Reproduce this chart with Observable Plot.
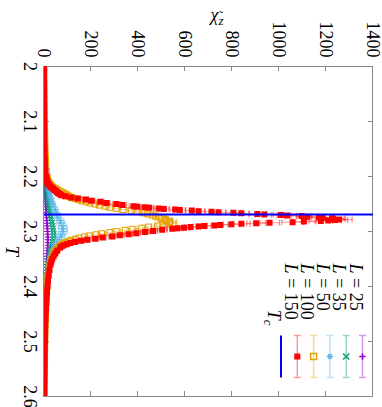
<!DOCTYPE html>
<html><head><meta charset="utf-8">
<script src="https://cdn.jsdelivr.net/npm/d3@7"></script>
<script src="https://cdn.jsdelivr.net/npm/@observablehq/plot@0.6"></script>
<style>
html,body{margin:0;padding:0;background:#fff;overflow:hidden;}
#wrap{position:relative;width:382px;height:407px;overflow:hidden;background:#fff;}
#chart{position:absolute;left:382px;top:0;width:407px;height:382px;transform-origin:0 0;transform:rotate(90deg);}
#chart svg{display:block;font-family:"Liberation Serif",serif !important;}
#chart svg text, #chart svg g{font-family:"Liberation Serif",serif !important;}
</style></head><body><div id="wrap"><div id="chart"></div></div>
<script>
// ---- data: [T, chi, err] ----
const L150 = [[2.00,2.0,0.6],[2.01,2.1,0.6],[2.02,2.0,0.6],[2.03,2.3,0.6],[2.04,2.4,0.7],[2.05,2.5,0.7],[2.06,2.4,0.7],[2.07,2.8,0.7],[2.08,3.0,0.8],[2.09,2.9,0.8],[2.10,3.4,0.8],[2.11,3.6,0.9],[2.12,3.9,0.9],[2.13,4.1,1.0],[2.14,4.6,1.0],[2.15,5.0,1.1],[2.16,5.4,1.2],[2.17,6.1,1.3],[2.18,7.0,1.4],[2.19,8.3,1.6],[2.20,10,1.8],
[2.202,11,2],[2.204,12,2],[2.206,13,2],[2.208,14,2.5],[2.210,16,2.5],[2.212,18,3],[2.214,21,3],[2.216,25,4],[2.218,29,4],[2.220,34,5],[2.222,40,5],[2.224,46,6],[2.226,52,6],[2.228,57,6],[2.230,62,7],[2.232,68,7],[2.234,76,8],[2.236,93,9],[2.238,118,10],[2.240,146,11],[2.242,180,12],[2.244,205,13],[2.246,243,14],[2.248,268,15],[2.250,310,16],[2.252,336,17],[2.254,383,18],
[2.255,398,18],[2.256,432,19],[2.257,450,20],[2.258,490,21],[2.259,512,22],[2.260,560,23],[2.261,580,24],[2.262,631,26],[2.263,660,27],[2.264,715,29],[2.265,745,30],[2.266,808,32],[2.267,842,34],[2.268,910,36],[2.269,940,38],[2.270,1010,40],[2.271,1036,42],[2.272,1098,44],[2.273,1122,46],[2.274,1172,48],[2.275,1188,50],[2.276,1228,52],[2.277,1232,53],[2.278,1258,55],[2.279,1240,54],[2.280,1212,52],[2.281,1180,50],[2.282,1108,48],[2.283,1060,46],[2.284,962,42],[2.285,905,40],[2.286,842,37],[2.287,800,35],[2.288,752,33],[2.289,728,31],[2.290,684,29],[2.291,660,28],[2.292,626,26],[2.293,598,25],[2.294,571,24],[2.295,548,23],
[2.297,505,21],[2.299,466,20],[2.301,432,19],[2.303,395,18],[2.305,362,17],[2.307,325,16],[2.309,292,15],[2.311,252,14],[2.313,220,13],[2.315,186,12],[2.317,160,11],[2.319,134,10],[2.321,114,9],[2.323,99,8],[2.325,86,7],[2.327,78,6],[2.329,71,6],
[2.335,58,5],[2.340,50,4],[2.345,43,4],[2.350,37,3],[2.355,33,3],[2.360,29,2.5],
[2.37,25,2],[2.38,22,2],[2.39,19,1.8],[2.40,17,1.6],[2.41,15,1.5],[2.42,13.5,1.4],[2.43,12,1.3],[2.44,10.5,1.2],[2.45,9.5,1.1],[2.46,8.5,1],[2.47,7.5,1],[2.48,7,0.9],[2.49,6.5,0.9],[2.50,6,0.8],[2.51,5.5,0.8],[2.52,5.2,0.8],[2.53,4.9,0.7],[2.54,4.6,0.7],[2.55,4.4,0.7],[2.56,4.1,0.7],[2.57,3.9,0.6],[2.58,3.6,0.6],[2.59,3.4,0.6],[2.60,3.2,0.6]];

const L100 = [[2.00,2.0,0.5],[2.01,2.2,0.5],[2.02,2.1,0.5],[2.03,2.5,0.6],[2.04,2.6,0.6],[2.05,2.9,0.6],[2.06,3.1,0.7],[2.07,3.0,0.7],[2.08,3.5,0.7],[2.09,3.6,0.8],[2.10,4.0,0.8],[2.11,4.5,0.9],[2.12,5.0,0.9],[2.13,5.4,1],[2.14,6.1,1],[2.15,6.6,1.1],[2.16,7.5,1.2],[2.17,8.6,1.3],[2.18,10,1.5],[2.19,12,1.7],[2.20,14,2],
[2.202,15,2],[2.204,16,2],[2.206,18,2.5],[2.208,19,2.5],[2.210,21,3],[2.212,24,3],[2.214,27,3],[2.216,31,3.5],[2.218,36,4],[2.220,42,4],[2.222,50,5],[2.224,58,5],[2.226,66,6],[2.228,76,6],[2.230,85,7],[2.232,93,7],[2.234,101,8],[2.236,108,8],[2.238,119,9],[2.240,132,10],[2.242,148,10],[2.244,162,11],[2.246,181,12],[2.248,197,13],[2.250,219,14],[2.252,238,15],[2.254,263,16],[2.256,283,17],[2.258,312,18],[2.260,338,19],[2.262,374,20],[2.264,398,21],[2.266,426,22],[2.268,443,23],[2.270,464,24],[2.272,476,25],[2.274,494,26],[2.276,503,27],[2.278,518,28],[2.280,524,28],[2.282,536,29],[2.284,538,29],[2.286,533,29],[2.288,508,28],[2.290,486,27],[2.292,447,25],[2.294,418,24],[2.296,377,22],[2.298,348,21],[2.300,309,19],[2.302,283,18],[2.304,247,16],[2.306,224,15],[2.308,194,13],[2.310,174,12],[2.312,150,11],[2.314,135,10],[2.316,117,9],[2.318,106,8],[2.320,93,7],[2.322,86,7],[2.324,77,6],[2.326,71,6],[2.328,65,5],[2.330,61,5],
[2.335,51,4],[2.340,44,4],[2.345,38,3],[2.350,33,3],[2.355,30,2.5],[2.360,27,2.5],
[2.37,23,2],[2.38,19,1.8],[2.39,17,1.6],[2.40,15,1.5],[2.41,13,1.4],[2.42,11.5,1.3],[2.43,10.5,1.2],[2.44,9.5,1.1],[2.45,8.5,1],[2.46,8,1],[2.47,7,0.9],[2.48,6.5,0.9],[2.49,6,0.8],[2.50,5.5,0.8],[2.51,5.1,0.7],[2.52,4.9,0.7],[2.53,4.5,0.7],[2.54,4.4,0.7],[2.55,4.0,0.6],[2.56,3.9,0.6],[2.57,3.6,0.6],[2.58,3.4,0.6],[2.59,3.1,0.5],[2.60,3.0,0.5]];

const L50 = [[2.00,1.5,0.4],[2.01,1.6,0.4],[2.02,1.5,0.4],[2.03,1.8,0.5],[2.04,1.8,0.5],[2.05,2.1,0.5],[2.06,2.0,0.5],[2.07,2.4,0.6],[2.08,2.5,0.6],[2.09,2.8,0.7],[2.10,3.0,0.8],[2.11,3.3,0.9],[2.12,3.5,1],[2.13,4.1,1.1],[2.14,4.4,1.2],
[2.150,5.1,1.5],[2.155,5.4,1.6],[2.160,6.3,1.8],[2.165,6.6,2],[2.170,7.6,2.2],[2.175,8.0,2.4],[2.180,9.4,2.7],[2.185,9.8,3],[2.190,11.8,3.3],[2.195,12.2,3.6],[2.200,14.5,4],[2.205,15.1,4.3],[2.210,17.6,4.7],[2.215,18.4,5],[2.220,21.8,5.5],[2.225,22.6,6],[2.230,27,6.5],[2.235,27.5,7],[2.240,33,8],[2.245,34,8.5],[2.250,40,9],[2.255,42,10],[2.260,49,11],[2.265,52,12],[2.270,59,13],[2.275,62,14],[2.280,71,15],[2.285,74,16],[2.290,81,17],[2.295,82,18],[2.300,83,18],[2.305,77,17],[2.310,73,16],[2.315,63,15],[2.320,58,14],[2.325,49,12],[2.330,45,11],[2.335,38,10],[2.340,36,9],[2.345,30,8],[2.350,29,7],[2.355,24.5,6.5],[2.360,23.5,6],[2.365,20.5,5.5],[2.370,20,5],[2.375,17.5,4.5],[2.380,17,4.2],[2.385,15.2,4],[2.390,14.8,3.8],[2.395,13.2,3.5],[2.400,12.8,3.3],
[2.41,11.2,2.8],[2.42,10.1,2.5],[2.43,9.1,2.2],[2.44,8.3,2],[2.45,7.6,1.8],[2.46,7.0,1.6],[2.47,6.5,1.5],[2.48,6.0,1.4],[2.49,5.6,1.3],[2.50,5.2,1.2],[2.51,4.9,1.1],[2.52,4.5,1],[2.53,4.3,1],[2.54,4.0,0.9],[2.55,3.8,0.9],[2.56,3.6,0.8],[2.57,3.4,0.8],[2.58,3.2,0.7],[2.59,3.0,0.7],[2.60,2.9,0.7]];

const L35 = [[2.00,1.0,0.2],[2.01,1.1,0.2],[2.02,1.1,0.2],[2.03,1.2,0.2],[2.04,1.3,0.3],[2.05,1.4,0.3],[2.06,1.5,0.3],[2.07,1.6,0.3],[2.08,1.8,0.4],[2.09,1.9,0.4],[2.10,2.1,0.4],[2.11,2.3,0.5],[2.12,2.6,0.5],[2.13,2.8,0.6],[2.14,3.1,0.6],
[2.150,3.4,0.7],[2.155,3.8,0.7],[2.160,4.0,0.8],[2.165,4.5,0.8],[2.170,4.8,0.9],[2.175,5.4,1],[2.180,5.8,1],[2.185,6.4,1.1],[2.190,7.0,1.2],[2.195,7.7,1.3],[2.200,8.3,1.4],[2.205,9.1,1.5],[2.210,9.8,1.6],[2.215,10.8,1.8],[2.220,11.7,1.9],[2.225,12.9,2.1],[2.230,14,2.2],[2.235,15.5,2.4],[2.240,16.8,2.6],[2.245,18.6,2.8],[2.250,20,3],[2.255,22.3,3.3],[2.260,24,3.5],[2.265,26.4,3.8],[2.270,28.5,4],[2.275,31.3,4.3],[2.280,33.5,4.5],[2.285,36.4,4.8],[2.290,38.5,5],[2.295,40.8,5.2],[2.300,42,5.3],[2.305,42.8,5.4],[2.310,42,5.3],[2.315,40.8,5.1],[2.320,38,4.8],[2.325,35.3,4.5],[2.330,32,4.1],[2.335,29.3,3.8],[2.340,26.5,3.4],[2.345,24.2,3.1],[2.350,22,2.9],[2.355,20.2,2.7],[2.360,18.5,2.5],[2.365,17.2,2.3],[2.370,15.8,2.1],[2.375,14.8,2],[2.380,13.7,1.9],[2.385,12.9,1.8],[2.390,12,1.7],[2.395,11.4,1.6],[2.400,10.6,1.5],
[2.41,9.5,1.3],[2.42,8.6,1.2],[2.43,7.8,1.1],[2.44,7.1,1],[2.45,6.5,0.9],[2.46,6.0,0.8],[2.47,5.5,0.8],[2.48,5.1,0.7],[2.49,4.7,0.7],[2.50,4.4,0.6],[2.51,4.1,0.6],[2.52,3.8,0.5],[2.53,3.6,0.5],[2.54,3.4,0.5],[2.55,3.2,0.5],[2.56,3.0,0.4],[2.57,2.8,0.4],[2.58,2.7,0.4],[2.59,2.5,0.4],[2.60,2.4,0.4]];

const L25 = [[2.00,0.6,0.1],[2.01,0.65,0.1],[2.02,0.7,0.1],[2.03,0.75,0.1],[2.04,0.8,0.1],[2.05,0.85,0.1],[2.06,0.9,0.1],[2.07,1.0,0.1],[2.08,1.05,0.1],[2.09,1.1,0.1],[2.10,1.2,0.1],[2.11,1.3,0.15],[2.12,1.4,0.15],[2.13,1.5,0.15],[2.14,1.65,0.2],
[2.150,1.8,0.2],[2.155,1.9,0.2],[2.160,2.0,0.2],[2.165,2.2,0.2],[2.170,2.4,0.25],[2.175,2.6,0.25],[2.180,2.8,0.3],[2.185,3.0,0.3],[2.190,3.3,0.3],[2.195,3.6,0.35],[2.200,3.9,0.4],[2.205,4.2,0.4],[2.210,4.6,0.45],[2.215,5.0,0.5],[2.220,5.4,0.5],[2.225,5.9,0.55],[2.230,6.4,0.6],[2.235,7.0,0.65],[2.240,7.6,0.7],[2.245,8.2,0.75],[2.250,8.9,0.8],[2.255,9.7,0.9],[2.260,10.5,0.95],[2.265,11.3,1],[2.270,12.2,1.1],[2.275,13.1,1.2],[2.280,14,1.3],[2.285,14.9,1.35],[2.290,15.8,1.4],[2.295,16.6,1.5],[2.300,17.3,1.55],[2.305,17.9,1.6],[2.310,18.3,1.65],[2.315,18.5,1.65],[2.320,18.4,1.65],[2.325,18.1,1.6],[2.330,17.5,1.55],[2.335,16.8,1.5],[2.340,16,1.45],[2.345,15.2,1.4],[2.350,14.4,1.3],[2.355,13.6,1.2],[2.360,12.8,1.15],[2.365,12.1,1.1],[2.370,11.4,1],[2.375,10.8,0.95],[2.380,10.2,0.9],[2.385,9.6,0.85],[2.390,9.1,0.8],[2.395,8.6,0.75],[2.400,8.2,0.7],
[2.41,7.4,0.65],[2.42,6.7,0.6],[2.43,6.1,0.55],[2.44,5.6,0.5],[2.45,5.1,0.45],[2.46,4.7,0.4],[2.47,4.4,0.4],[2.48,4.1,0.35],[2.49,3.8,0.35],[2.50,3.5,0.3],[2.51,3.3,0.3],[2.52,3.1,0.3],[2.53,2.9,0.25],[2.54,2.8,0.25],[2.55,2.6,0.25],[2.56,2.5,0.2],[2.57,2.4,0.2],[2.58,2.3,0.2],[2.59,2.2,0.2],[2.60,2.1,0.2]];

const Tc = 2.2692;
const Tticks = [2, 2.1, 2.2, 2.3, 2.4, 2.5, 2.6];
const Tlabels = ["2", "2.1", "2.2", "2.3", "2.4", "2.5", "2.6"];
const chiTicks = [0, 200, 400, 600, 800, 1000, 1200, 1400];
const chiLabels = ["0", "200", "400", "600", "800", "1000", "1200", "1400"];
const legendLabels = ["L = 25", "L = 35", "L = 50", "L = 100", "L = 150", "Tc"];
const colors = ["#9400d3", "#009e73", "#56b4e9", "#e69f00", "#ff0000", "#0000ff"];

// ---- drawing ----
const W = 407, H = 382;
const mL = 66, mR = 11, mT = 9, mB = 44;
const frameW = W - mL - mR, frameH = H - mT - mB;
const tickLen = 5;
const gray = "#8a8a8a";
const serif = "'Liberation Serif', serif";

const capSym = {draw(ctx) { ctx.moveTo(-3, 0); ctx.lineTo(3, 0); }};
const legBar = {draw(ctx) { ctx.moveTo(-21, 0); ctx.lineTo(21, 0); ctx.moveTo(-21, -3.5); ctx.lineTo(-21, 3.5); ctx.moveTo(21, -3.5); ctx.lineTo(21, 3.5); }};
const legLine = {draw(ctx) { ctx.moveTo(-21, 0); ctx.lineTo(21, 0); }};

const seriesList = [
  {rows: L25, color: colors[0], symbol: "plus", r: 2.2, filled: false},
  {rows: L35, color: colors[1], symbol: "times", r: 2.9, filled: false},
  {rows: L50, color: colors[2], symbol: "asterisk", r: 2.9, filled: false},
  {rows: L100, color: colors[3], symbol: "square2", r: 3.8, filled: false},
  {rows: L150, color: colors[4], symbol: "square", r: 3.4, filled: true}
];

function seriesMarks(s) {
  const d = s.rows.map(([T, chi, err]) => ({T, chi, lo: chi - err, hi: chi + err}));
  return [
    Plot.ruleX(d, {x: "T", y1: "lo", y2: "hi", stroke: s.color, strokeOpacity: 0.4, clip: true}),
    Plot.dot(d, {x: "T", y: "lo", symbol: capSym, stroke: s.color, strokeOpacity: 0.4, fill: "none", clip: true}),
    Plot.dot(d, {x: "T", y: "hi", symbol: capSym, stroke: s.color, strokeOpacity: 0.4, fill: "none", clip: true}),
    Plot.dot(d, {x: "T", y: "chi", symbol: s.symbol, r: s.r,
      fill: s.filled ? s.color : "none", stroke: s.filled ? "none" : s.color, strokeWidth: 1, clip: true})
  ];
}

const legendY0 = 10, legendStep = 16.3;
const legendMarks = [];
legendLabels.forEach((lab, i) => {
  const dy = legendY0 + i * legendStep;
  if (i < 5) {
    legendMarks.push(Plot.text([lab], {frameAnchor: "top-left", dx: 197, dy, textAnchor: "start", fontSize: 18, fontFamily: serif}));
    const s = seriesList[i];
    legendMarks.push(Plot.dot([0], {frameAnchor: "top-left", dx: 290, dy, symbol: legBar, stroke: s.color, strokeOpacity: 0.4, fill: "none"}));
    legendMarks.push(Plot.dot([0], {frameAnchor: "top-left", dx: 290, dy, symbol: s.symbol, r: s.r,
      fill: s.filled ? s.color : "none", stroke: s.filled ? "none" : s.color}));
  } else {
    legendMarks.push(Plot.text([lab], {frameAnchor: "top-left", dx: 259, dy, textAnchor: "end", fontSize: 18, fontFamily: serif}));
    legendMarks.push(Plot.dot([0], {frameAnchor: "top-left", dx: 290, dy, symbol: legLine, stroke: colors[5], strokeWidth: 2, fill: "none"}));
  }
});

const plot = Plot.plot({
  width: W, height: H,
  marginLeft: mL, marginRight: mR, marginTop: mT, marginBottom: mB,
  x: {domain: [2, 2.6]},
  y: {domain: [0, 1400]},
  style: {fontFamily: serif, fontSize: "18px", color: "#000", background: "#fff"},
  marks: [
    Plot.frame({stroke: gray}),
    Plot.tickX(Tticks, {insetTop: frameH - tickLen, stroke: gray}),
    Plot.tickX(Tticks, {insetBottom: frameH - tickLen, stroke: gray}),
    Plot.tickY(chiTicks, {insetRight: frameW - tickLen, stroke: gray}),
    Plot.tickY(chiTicks, {insetLeft: frameW - tickLen, stroke: gray}),
    Plot.axisX(Tticks, {tickSize: 0, tickPadding: 7, tickFormat: d => Tlabels[Tticks.indexOf(d)], label: null, fontSize: 18, fontFamily: serif}),
    Plot.axisY(chiTicks, {tickSize: 0, tickPadding: 9, tickFormat: d => chiLabels[chiTicks.indexOf(d)], label: null, fontSize: 18, fontFamily: serif}),
    ...seriesList.flatMap(seriesMarks),
    Plot.ruleX([Tc], {stroke: colors[5], strokeWidth: 2}),
    Plot.text(["T"], {frameAnchor: "top-left", dx: 179, dy: 353, fontStyle: "italic", fontSize: 19, fontFamily: serif}),
    Plot.text(["χz"], {frameAnchor: "top-left", dx: -58, dy: 162, rotate: -90, fontSize: 18, fontFamily: serif}),
    ...legendMarks
  ]
});

// rich text (italic / subscripts)
d3.select(plot).selectAll("text").attr("font-family", serif).each(function() {
  const t = this.textContent;
  const sel = d3.select(this);
  if (t.startsWith("L = ")) {
    sel.text(null);
    sel.append("tspan").attr("font-style", "italic").text("L");
    sel.append("tspan").text(t.slice(1));
  } else if (t === "Tc") {
    sel.text(null);
    sel.append("tspan").attr("font-style", "italic").text("T");
    sel.append("tspan").attr("font-style", "italic").attr("font-size", 13).attr("dy", 4).text("c");
  } else if (t === "χz") {
    sel.text(null);
    sel.append("tspan").attr("font-style", "italic").text("χ");
    sel.append("tspan").attr("font-style", "italic").attr("font-size", 13).attr("dy", 4).text("z");
    sel.append("tspan").attr("font-size", 12).attr("dx", -4.5).attr("dy", -5).text("˜");
  }
});

document.getElementById("chart").appendChild(plot);
</script></body></html>
